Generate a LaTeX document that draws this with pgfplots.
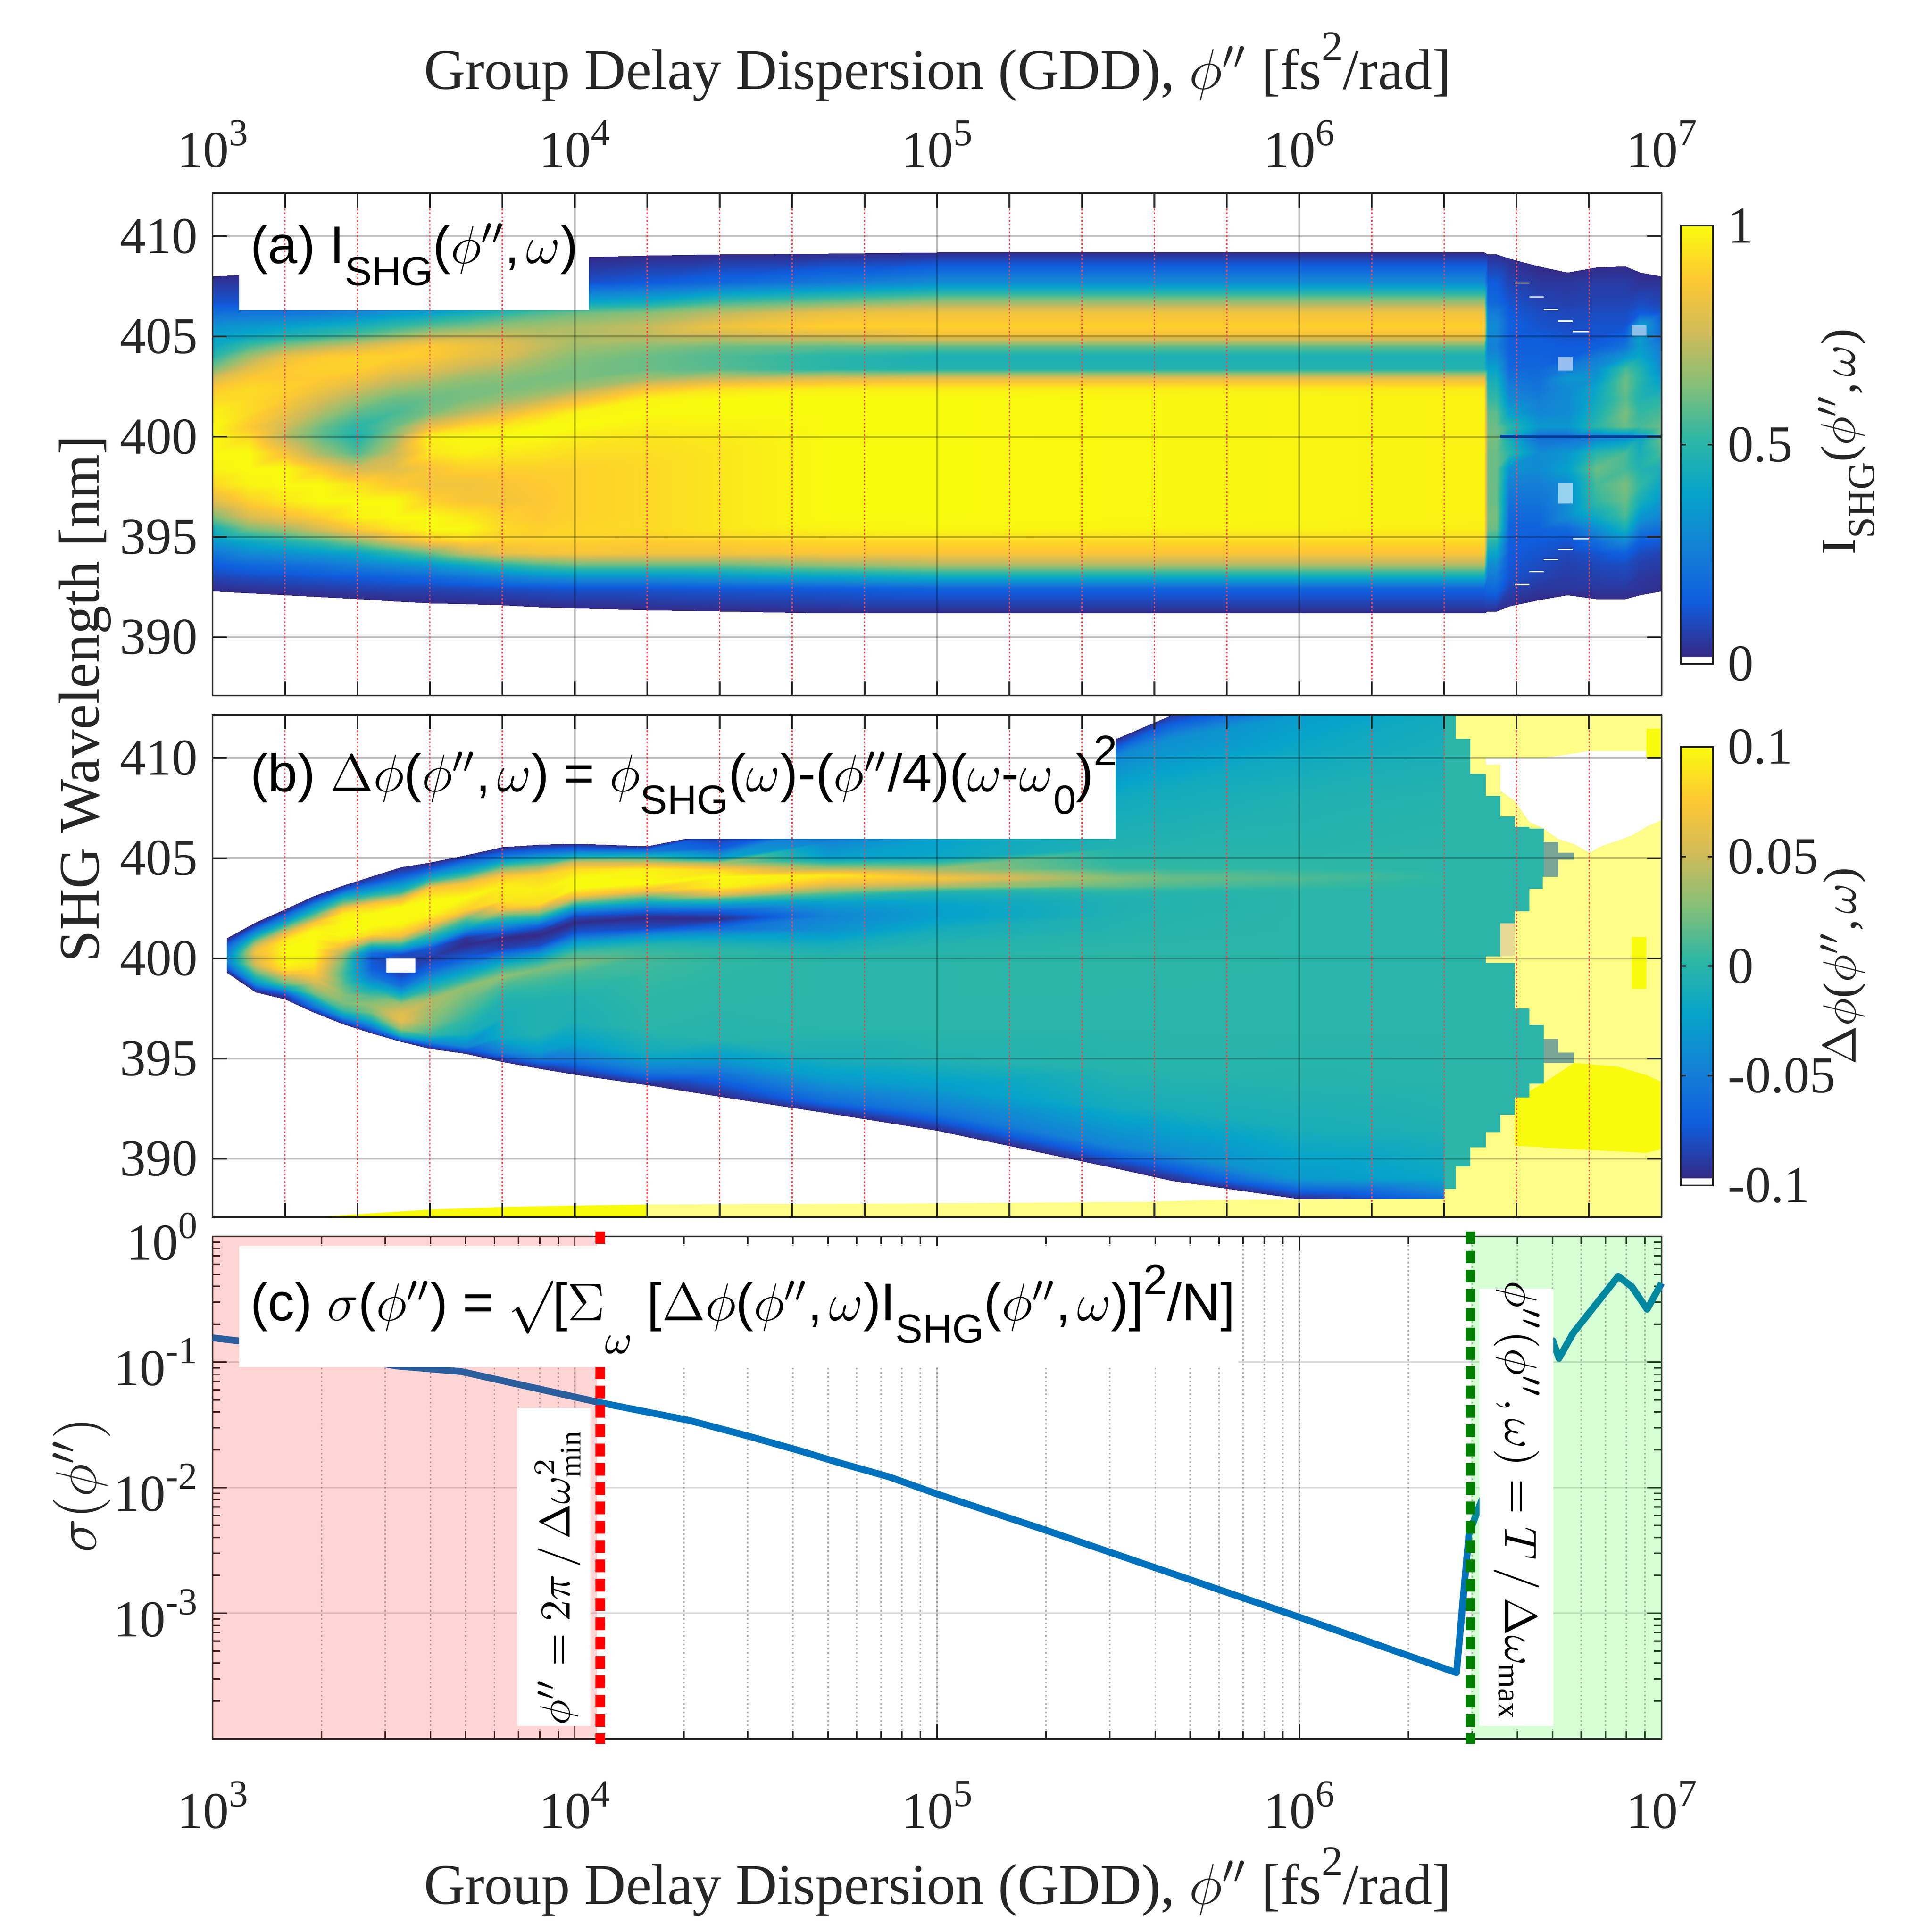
\RequirePackage{fix-cm}
\documentclass[border=0pt]{standalone}
\usepackage{pgfplots}
\pgfplotsset{compat=1.18}
\usepackage{fontspec}
\setmainfont{Liberation Serif}
\newfontfamily\sansf{Liberation Sans}
\definecolor{dgray}{RGB}{38,38,38}
\definecolor{reddot}{RGB}{255,70,80}
\definecolor{teal0}{RGB}{42,181,168}
\definecolor{paley}{RGB}{253,253,135}
\definecolor{bright}{RGB}{249,251,14}
\definecolor{tipgray}{RGB}{120,165,150}
\newcommand\tickfont{\fontsize{12.2}{14}\selectfont}
\newcommand\labfont{\fontsize{13.5}{15}\selectfont}
\newcommand\panfont{\sansf\fontsize{12.5}{15}\selectfont}
\newcommand\tn[1]{10\raisebox{.42em}{\fontsize{9}{9}\selectfont #1}}
\newcommand\sbs[1]{\raisebox{-.42em}{\fontsize{9.6}{10}\selectfont #1}}
\newcommand\sps[1]{\raisebox{.5em}{\fontsize{10}{10}\selectfont #1}}
\newcommand\PW{($\phi''$,\kern.12em$\omega$)}
\pgfplotsset{
  colormap={parw}{rgb255(0cm)=(255,255,255); rgb255(1cm)=(255,255,255); rgb255(1.125cm)=(53,42,135);
    rgb255(9cm)=(15,92,221); rgb255(17cm)=(20,129,214); rgb255(25cm)=(6,164,202); rgb255(33cm)=(46,183,164);
    rgb255(40.875cm)=(135,191,119); rgb255(48.5cm)=(209,187,89); rgb255(56.25cm)=(254,200,50); rgb255(64cm)=(249,251,14)},
  every tick label/.append style={font=\tickfont,text=dgray},
  heatax/.style={
    scale only axis, width=12cm, height=4.16cm, anchor=south west,
    xmin=3, xmax=7, ymin=387.09, ymax=412.15,
    axis on top, axis line style={dgray,line width=.4pt},
    tick align=inside, major tick length=3.4pt, tick style={dgray,line width=.4pt},
    minor tick length=0pt,
    xtick={3,4,5,6,7},
    ytick={390,395,400,405,410},
    xmajorgrids, ymajorgrids,
    major grid style={black,opacity=.25,line width=.45pt},
    extra x ticks={3.2,3.4,3.6,3.8,4.2,4.4,4.6,4.8,5.2,5.4,5.6,5.8,6.2,6.4,6.6,6.8},
    extra x tick labels={},
    extra x tick style={grid=major,major grid style={reddot,line width=.35pt,dash pattern=on .4pt off .5pt,opacity=1}},
  },
  cbar/.style={
    width=.2656cm, anchor=north west, tick align=inside, major tick length=1.2pt,
    tick style={dgray,line width=.35pt}, axis line style={dgray,line width=.4pt},
    yticklabel pos=right,
  },
}
\begin{document}
\begin{tikzpicture}
\path[use as bounding box] (0,0) rectangle (16cm,16cm);
% panel (a), x is log10 of the GDD
\begin{axis}[heatax, at={(1.76cm,10.24cm)}, xticklabel pos=upper,
  xticklabels={\tn{3},\tn{4},\tn{5},\tn{6},\tn{7}},
  xticklabel style={yshift=2.5pt},
  yticklabels={390,395,400,405,410},
  colormap name=parw, point meta min=0, point meta max=1, colorbar,
  colorbar style={cbar, at={(1.01333,0.9354)}, height=3.629cm, ytick={0,.5,1}, yticklabels={0,0.5,1}}]
\addplot[surf, shader=interp, mesh/ordering=y varies, mesh/rows=27, point meta={\thisrowno{2}/100}]
 table {
3.0 408.0 2
3.0 407.7 5
3.0 406.7 12
3.0 406.2 20
3.0 405.5 32
3.0 405 38
3.0 404.5 42
3.0 404 50
3.0 403.4 62
3.0 402.9 78
3.0 402.4 88
3.0 401.9 92
3.0 401.2 98
3.0 400.5 100
3.0 400 100
3.0 399.2 100
3.0 398.4 98
3.0 397.6 92
3.0 396.8 80
3.0 396 62
3.0 395.4 45
3.0 394.8 35
3.0 394.2 22
3.0 393.6 14
3.0 393 8
3.0 392.4 3
3.0 392.3 2
3.1 408.1 2
3.1 407.7 5
3.1 406.7 12
3.1 406.2 22
3.1 405.5 35
3.1 405 42
3.1 404.5 55
3.1 404 68
3.1 403.4 80
3.1 402.9 88
3.1 402.4 92
3.1 401.9 92
3.1 401.2 92
3.1 400.5 88
3.1 400 92
3.1 399.2 100
3.1 398.4 100
3.1 397.6 98
3.1 396.8 90
3.1 396 78
3.1 395.4 62
3.1 394.8 42
3.1 394.2 30
3.1 393.6 18
3.1 393 10
3.1 392.4 4
3.1 392.2 2
3.2 408.2 2
3.2 407.7 5
3.2 406.7 12
3.2 406.2 22
3.2 405.5 38
3.2 405 48
3.2 404.5 65
3.2 404 82
3.2 403.4 88
3.2 402.9 88
3.2 402.4 90
3.2 401.9 88
3.2 401.2 82
3.2 400.5 76
3.2 400 72
3.2 399.2 85
3.2 398.4 100
3.2 397.6 100
3.2 396.8 96
3.2 396 84
3.2 395.4 68
3.2 394.8 48
3.2 394.2 32
3.2 393.6 20
3.2 393 11
3.2 392.4 5
3.2 392.1 2
3.3 408.35 2
3.3 407.7 5
3.3 406.7 14
3.3 406.2 24
3.3 405.5 42
3.3 405 52
3.3 404.5 72
3.3 404 88
3.3 403.4 90
3.3 402.9 88
3.3 402.4 84
3.3 401.9 78
3.3 401.2 70
3.3 400.5 60
3.3 400 58
3.3 399.2 68
3.3 398.4 88
3.3 397.6 100
3.3 396.8 100
3.3 396 90
3.3 395.4 78
3.3 394.8 55
3.3 394.2 36
3.3 393.6 22
3.3 393 13
3.3 392.4 6
3.3 392 2
3.4 408.5 2
3.4 407.7 5
3.4 406.7 15
3.4 406.2 28
3.4 405.5 46
3.4 405 58
3.4 404.5 78
3.4 404 90
3.4 403.4 90
3.4 402.9 84
3.4 402.4 76
3.4 401.9 68
3.4 401.2 58
3.4 400.5 50
3.4 400 48
3.4 399.2 56
3.4 398.4 76
3.4 397.6 94
3.4 396.8 100
3.4 396 98
3.4 395.4 88
3.4 394.8 65
3.4 394.2 40
3.4 393.6 26
3.4 393 14
3.4 392.4 7
3.4 391.9 2
3.5 408.6 2
3.5 407.7 6
3.5 406.7 18
3.5 406.2 34
3.5 405.5 52
3.5 405 66
3.5 404.5 84
3.5 404 90
3.5 403.4 84
3.5 402.9 76
3.5 402.4 68
3.5 401.9 60
3.5 401.2 55
3.5 400.5 60
3.5 400 66
3.5 399.2 74
3.5 398.4 80
3.5 397.6 88
3.5 396.8 100
3.5 396 100
3.5 395.4 95
3.5 394.8 78
3.5 394.2 50
3.5 393.6 30
3.5 393 16
3.5 392.4 8
3.5 391.8 2
3.6 408.7 2
3.6 407.7 7
3.6 406.7 20
3.6 406.2 38
3.6 405.5 58
3.6 405 74
3.6 404.5 88
3.6 404 88
3.6 403.4 80
3.6 402.9 72
3.6 402.4 64
3.6 401.9 60
3.6 401.2 62
3.6 400.5 82
3.6 400 98
3.6 399.2 95
3.6 398.4 86
3.6 397.6 84
3.6 396.8 90
3.6 396 100
3.6 395.4 100
3.6 394.8 88
3.6 394.2 60
3.6 393.6 34
3.6 393 18
3.6 392.4 8
3.6 391.7 2
3.7 408.8 2
3.7 407.7 8
3.7 406.7 24
3.7 406.2 44
3.7 405.5 62
3.7 405 76
3.7 404.5 84
3.7 404 82
3.7 403.4 74
3.7 402.9 66
3.7 402.4 62
3.7 401.9 62
3.7 401.2 72
3.7 400.5 92
3.7 400 100
3.7 399.2 98
3.7 398.4 90
3.7 397.6 84
3.7 396.8 86
3.7 396 96
3.7 395.4 100
3.7 394.8 92
3.7 394.2 74
3.7 393.6 42
3.7 393 22
3.7 392.4 9
3.7 391.65 2
3.8 408.85 2
3.8 407.7 9
3.8 406.7 30
3.8 406.2 50
3.8 405.5 66
3.8 405 75
3.8 404.5 80
3.8 404 78
3.8 403.4 70
3.8 402.9 64
3.8 402.4 62
3.8 401.9 66
3.8 401.2 80
3.8 400.5 96
3.8 400 100
3.8 399.2 96
3.8 398.4 90
3.8 397.6 86
3.8 396.8 85
3.8 396 90
3.8 395.4 92
3.8 394.8 90
3.8 394.2 82
3.8 393.6 50
3.8 393 26
3.8 392.4 10
3.8 391.6 2
3.9 408.9 2
3.9 407.7 10
3.9 406.7 36
3.9 406.2 56
3.9 405.5 68
3.9 405 72
3.9 404.5 74
3.9 404 70
3.9 403.4 65
3.9 402.9 62
3.9 402.4 64
3.9 401.9 72
3.9 401.2 90
3.9 400.5 100
3.9 400 100
3.9 399.2 95
3.9 398.4 90
3.9 397.6 88
3.9 396.8 87
3.9 396 88
3.9 395.4 90
3.9 394.8 90
3.9 394.2 85
3.9 393.6 56
3.9 393 30
3.9 392.4 11
3.9 391.5 2
4 408.95 2
4 407.7 11
4 406.7 40
4 406.2 60
4 405.5 70
4 405 70
4 404.5 68
4 404 64
4 403.4 62
4 402.9 62
4 402.4 68
4 401.9 82
4 401.2 98
4 400.5 100
4 400 97
4 399.2 93
4 398.4 90
4 397.6 90
4 396.8 90
4 396 90
4 395.4 91
4 394.8 90
4 394.2 86
4 393.6 60
4 393 32
4 392.4 12
4 391.45 2
4.2 409.05 2
4.2 407.7 14
4.2 406.7 44
4.2 406.2 64
4.2 405.5 74
4.2 405 72
4.2 404.5 64
4.2 404 60
4.2 403.4 60
4.2 402.9 68
4.2 402.4 86
4.2 401.9 98
4.2 401.2 100
4.2 400.5 97
4.2 400 95
4.2 399.2 93
4.2 398.4 92
4.2 397.6 92
4.2 396.8 92
4.2 396 92
4.2 395.4 92
4.2 394.8 89
4.2 394.2 85
4.2 393.6 60
4.2 393 32
4.2 392.4 12
4.2 391.35 2
4.4 409.1 2
4.4 407.7 18
4.4 406.7 55
4.4 406.2 72
4.4 405.5 84
4.4 405 74
4.4 404.5 60
4.4 404 56
4.4 403.4 57
4.4 402.9 75
4.4 402.4 94
4.4 401.9 100
4.4 401.2 100
4.4 400.5 98
4.4 400 96
4.4 399.2 95
4.4 398.4 95
4.4 397.6 95
4.4 396.8 95
4.4 396 95
4.4 395.4 95
4.4 394.8 90
4.4 394.2 85
4.4 393.6 60
4.4 393 34
4.4 392.4 13
4.4 391.3 2
4.7 409.15 2
4.7 407.7 24
4.7 406.7 62
4.7 406.2 82
4.7 405.5 90
4.7 405 78
4.7 404.5 58
4.7 404 50
4.7 403.4 50
4.7 402.9 80
4.7 402.4 97
4.7 401.9 100
4.7 401.2 100
4.7 400.5 100
4.7 400 100
4.7 399.2 100
4.7 398.4 100
4.7 397.6 100
4.7 396.8 100
4.7 396 100
4.7 395.4 98
4.7 394.8 92
4.7 394.2 87
4.7 393.6 66
4.7 393 38
4.7 392.4 14
4.7 391.2 2
5 409.2 2
5 407.7 30
5 406.7 68
5 406.2 84
5 405.5 90
5 405 84
5 404.5 58
5 404 46
5 403.4 48
5 402.9 82
5 402.4 97
5 401.9 100
5 401.2 100
5 400.5 100
5 400 100
5 399.2 100
5 398.4 100
5 397.6 100
5 396.8 100
5 396 100
5 395.4 99
5 394.8 92
5 394.2 87
5 393.6 70
5 393 42
5 392.4 16
5 391.2 2
6.51 409.2 2
6.51 407.7 30
6.51 406.7 68
6.51 406.2 84
6.51 405.5 90
6.51 405 84
6.51 404.5 58
6.51 404 46
6.51 403.4 48
6.51 402.9 82
6.51 402.4 96
6.51 401.9 98
6.51 401.2 98
6.51 400.5 98
6.51 400 98
6.51 399.2 98
6.51 398.4 98
6.51 397.6 98
6.51 396.8 98
6.51 396 98
6.51 395.4 97
6.51 394.8 92
6.51 394.2 87
6.51 393.6 70
6.51 393 42
6.51 392.4 16
6.51 391.2 2
6.52 409.1 3
6.52 407.7 14
6.52 406.7 18
6.52 406.2 25
6.52 405.5 30
6.52 405 28
6.52 404.5 26
6.52 404 30
6.52 403.4 38
6.52 402.9 44
6.52 402.4 48
6.52 401.9 52
6.52 401.2 58
6.52 400.5 60
6.52 400 62
6.52 399.2 60
6.52 398.4 60
6.52 397.6 60
6.52 396.8 60
6.52 396 62
6.52 395.4 60
6.52 394.8 50
6.52 394.2 40
6.52 393.6 30
6.52 393 24
6.52 392.4 18
6.52 391.3 3
6.545 409.1 3
6.545 407.7 14
6.545 406.7 18
6.545 406.2 25
6.545 405.5 30
6.545 405 28
6.545 404.5 26
6.545 404 30
6.545 403.4 38
6.545 402.9 44
6.545 402.4 48
6.545 401.9 52
6.545 401.2 58
6.545 400.5 60
6.545 400 62
6.545 399.2 60
6.545 398.4 60
6.545 397.6 60
6.545 396.8 60
6.545 396 62
6.545 395.4 60
6.545 394.8 50
6.545 394.2 40
6.545 393.6 30
6.545 393 24
6.545 392.4 18
6.545 391.3 3
6.58 408.9 3
6.58 407.7 8
6.58 406.7 12
6.58 406.2 14
6.58 405.5 16
6.58 405 15
6.58 404.5 15
6.58 404 16
6.58 403.4 18
6.58 402.9 22
6.58 402.4 26
6.58 401.9 30
6.58 401.2 38
6.58 400.5 50
6.58 400 45
6.58 399.2 50
6.58 398.4 32
6.58 397.6 26
6.58 396.8 22
6.58 396 18
6.58 395.4 16
6.58 394.8 15
6.58 394.2 14
6.58 393.6 13
6.58 393 12
6.58 392.4 8
6.58 391.55 3
6.66 408.5 2
6.66 407.7 5
6.66 406.7 8
6.66 406.2 10
6.66 405.5 12
6.66 405 14
6.66 404.5 15
6.66 404 16
6.66 403.4 18
6.66 402.9 20
6.66 402.4 22
6.66 401.9 25
6.66 401.2 28
6.66 400.5 35
6.66 400 20
6.66 399.2 30
6.66 398.4 30
6.66 397.6 25
6.66 396.8 22
6.66 396 18
6.66 395.4 16
6.66 394.8 14
6.66 394.2 12
6.66 393.6 10
6.66 393 8
6.66 392.4 5
6.66 391.85 2
6.74 408.2 2
6.74 407.7 5
6.74 406.7 7
6.74 406.2 9
6.74 405.5 10
6.74 405 12
6.74 404.5 14
6.74 404 14
6.74 403.4 25
6.74 402.9 34
6.74 402.4 30
6.74 401.9 30
6.74 401.2 30
6.74 400.5 34
6.74 400 20
6.74 399.2 34
6.74 398.4 38
6.74 397.6 30
6.74 396.8 30
6.74 396 30
6.74 395.4 18
6.74 394.8 12
6.74 394.2 9
6.74 393.6 7
6.74 393 6
6.74 392.4 5
6.74 392.1 2
6.82 408.45 2
6.82 407.7 6
6.82 406.7 8
6.82 406.2 10
6.82 405.5 12
6.82 405 12
6.82 404.5 15
6.82 404 24
6.82 403.4 30
6.82 402.9 34
6.82 402.4 40
6.82 401.9 42
6.82 401.2 46
6.82 400.5 50
6.82 400 25
6.82 399.2 50
6.82 398.4 60
6.82 397.6 55
6.82 396.8 52
6.82 396 42
6.82 395.4 30
6.82 394.8 20
6.82 394.2 12
6.82 393.6 9
6.82 393 7
6.82 392.4 5
6.82 391.9 2
6.90 408.5 2
6.90 407.7 6
6.90 406.7 8
6.90 406.2 10
6.90 405.5 12
6.90 405 16
6.90 404.5 22
6.90 404 34
6.90 403.4 55
6.90 402.9 60
6.90 402.4 60
6.90 401.9 58
6.90 401.2 62
6.90 400.5 60
6.90 400 30
6.90 399.2 55
6.90 398.4 55
6.90 397.6 62
6.90 396.8 60
6.90 396 55
6.90 395.4 45
6.90 394.8 30
6.90 394.2 16
6.90 393.6 10
6.90 393 8
6.90 392.4 5
6.90 391.9 2
6.94 408.2 2
6.94 407.7 4
6.94 406.7 10
6.94 406.2 14
6.94 405.5 40
6.94 405 38
6.94 404.5 36
6.94 404 40
6.94 403.4 48
6.94 402.9 50
6.94 402.4 48
6.94 401.9 48
6.94 401.2 52
6.94 400.5 55
6.94 400 40
6.94 399.2 45
6.94 398.4 48
6.94 397.6 52
6.94 396.8 45
6.94 396 34
6.94 395.4 24
6.94 394.8 15
6.94 394.2 10
6.94 393.6 7
6.94 393 5
6.94 392.4 4
6.94 392.1 2
7 408 2
7 407.7 4
7 406.7 8
7 406.2 12
7 405.5 18
7 405 18
7 404.5 24
7 404 26
7 403.4 30
7 402.9 36
7 402.4 42
7 401.9 50
7 401.2 55
7 400.5 60
7 400 60
7 399.2 55
7 398.4 45
7 397.6 40
7 396.8 35
7 396 28
7 395.4 20
7 394.8 14
7 394.2 8
7 393.6 6
7 393 4
7 392.4 3
7 392.3 2
};
% light patches, the dark line at 400 nm and the white slits of the noisy part
\addplot[fill={rgb,255:red,150;green,190;blue,240},draw=none] coordinates {(6.715,403.98)(6.755,403.98)(6.755,403.3)(6.715,403.3)};
\addplot[fill={rgb,255:red,150;green,210;blue,240},draw=none] coordinates {(6.715,397.7)(6.755,397.7)(6.755,396.66)(6.715,396.66)};
\addplot[fill={rgb,255:red,140;green,190;blue,235},draw=none] coordinates {(6.918,405.56)(6.958,405.56)(6.958,405.04)(6.918,405.04)};
\addplot[color={rgb,255:red,10;green,80;blue,190},line width=.7pt] coordinates {(6.555,400)(7,400)};
\addplot[white,line width=.3pt,unbounded coords=jump] coordinates {
(6.595,407.66)(6.635,407.66) (6.7,nan)
(6.635,406.97)(6.675,406.97) (6.7,nan)
(6.675,406.33)(6.715,406.33) (6.7,nan)
(6.715,405.77)(6.755,405.77) (6.7,nan)
(6.755,405.25)(6.798,405.25) (6.7,nan)
(6.755,394.9)(6.798,394.9) (6.7,nan)
(6.715,394.39)(6.755,394.39) (6.7,nan)
(6.675,393.86)(6.715,393.86) (6.7,nan)
(6.635,393.27)(6.675,393.27) (6.7,nan)
(6.595,392.62)(6.635,392.62)};
% white box behind the panel text
\addplot[fill=white,draw=none] coordinates {(3.0736,406.3)(4.039,406.3)(4.039,411.5)(3.0736,411.5)};
\end{axis}
% panel (b)
\begin{axis}[heatax, at={(1.76cm,5.92cm)}, xticklabels={},
  yticklabels={390,395,400,405,410},
  colormap name=parw, point meta min=-0.1, point meta max=0.1, colorbar,
  colorbar style={cbar, at={(1.01333,0.9362)}, height=3.632cm, ytick={-.1,-.05,0,.05,.1}, yticklabels={-0.1,-0.05,0,0.05,0.1}}]
% pale hatched area right of the body, and the bottom strip
\addplot[fill=paley,draw=none] table {
6.3 412.15
7 412.15
7 387.09
6.3 387.09
};
\addplot[fill=paley,draw=none] table {
4.2 387.09
4.2 387.72
5 387.78
5.57 387.85
5.75 387.94
6.3 388
6.3 387.09
};
\addplot[fill=bright,draw=none] table {
3.28 387.09
3.6 387.47
3.8 387.6
4 387.67
4.2 387.72
4.2 387.09
};
\addplot[fill=white,draw=none] table {
6.515 410
6.675 410
6.801 410.34
6.958 410.34
6.958 410
7 410
7 406.9
6.958 406.56
6.918 406.13
6.879 405.87
6.836 405.61
6.801 405.27
6.758 405.7
6.715 405.96
6.675 406.47
6.635 406.82
6.595 407.85
6.555 408.37
6.555 409.66
6.515 409.66
};
\addplot[fill=bright,draw=none] table {
6.595 390.65
6.595 392.98
6.672 393.75
6.758 394.78
6.879 394.6
6.958 394.18
7 393.83
7 390.48
6.958 390.3
6.758 390.48
};
\addplot[fill=bright,draw=none] table {
6.918 401.06
6.958 401.06
6.958 398.48
6.918 398.48
};
\addplot[fill=bright,draw=none] table {
6.958 411.46
7 411.46
7 410
6.958 410
};
\addplot[fill={rgb,255:red,232;green,218;blue,150},draw=none] table {
6.555 401.75
6.595 401.75
6.595 400.1
6.555 400.1
};
% teal body right of the mesh
\addplot[fill=teal0,draw=none] table {
6.39 412.15
6.432 412.15
6.432 410.95
6.472 410.95
6.472 409.2
6.515 409.2
6.515 408.1
6.555 408.1
6.555 407.08
6.595 407.08
6.595 406.56
6.635 406.56
6.635 406.47
6.675 406.47
6.675 405.8
6.715 405.8
6.715 405.27
6.758 405.27
6.758 404.93
6.715 404.93
6.715 404.07
6.672 404.07
6.672 403.47
6.635 403.47
6.635 402.35
6.595 402.35
6.595 401.75
6.555 401.75
6.555 400.1
6.515 400.1
6.515 399.77
6.595 399.77
6.595 397.5
6.635 397.5
6.635 396.67
6.675 396.67
6.675 395.98
6.715 395.98
6.715 395.3
6.758 395.3
6.758 394.78
6.675 394.78
6.675 393.75
6.635 393.75
6.635 393.06
6.595 393.06
6.595 392.2
6.555 392.2
6.555 391.33
6.515 391.33
6.515 390.57
6.472 390.57
6.472 389.62
6.432 389.62
6.432 388.5
6.398 388.5
6.398 388.05
6.39 388.05
};
\addplot[fill=tipgray,draw=none] table {
6.675 405.8
6.715 405.8
6.715 405.27
6.758 405.27
6.758 404.93
6.715 404.93
6.715 404.07
6.675 404.07
};
\addplot[fill=tipgray,draw=none] table {
6.675 395.98
6.715 395.98
6.715 395.3
6.758 395.3
6.758 394.78
6.675 394.78
};
\addplot[surf, shader=interp, mesh/ordering=y varies, mesh/rows=22, point meta={\thisrowno{2}/1000}]
 table {
3.04 401 -96
3.04 400.9 -90
3.04 400.8 -80
3.04 400.7 -70
3.04 400.6 -62
3.04 400.5 -58
3.04 400.4 -55
3.04 400.3 -52
3.04 400.2 -50
3.04 400.1 -48
3.04 400 -45
3.04 399.95 -46
3.04 399.9 -48
3.04 399.85 -50
3.04 399.8 -52
3.04 399.7 -58
3.04 399.65 -62
3.04 399.6 -66
3.04 399.5 -74
3.04 399.45 -80
3.04 399.4 -88
3.04 399.3 -96
3.12 401.8 -96
3.12 401.65 -85
3.12 401.5 -65
3.12 401.35 -45
3.12 401.2 -25
3.12 401.05 0
3.12 400.9 20
3.12 400.75 38
3.12 400.6 55
3.12 400.45 65
3.12 400.3 70
3.12 400.15 65
3.12 400 60
3.12 399.85 58
3.12 399.7 55
3.12 399.55 42
3.12 399.4 30
3.12 399.1 0
3.12 398.8 -30
3.12 398.6 -60
3.12 398.4 -90
3.12 398.3 -96
3.2 402.46 -96
3.2 402.3 -85
3.2 402.2 -70
3.2 402 -45
3.2 401.86 -30
3.2 401.7 -5
3.2 401.5 25
3.2 401.35 48
3.2 401.17 70
3.2 401 85
3.2 400.83 95
3.2 400.48 100
3.2 400.14 100
3.2 399.8 100
3.2 399.45 90
3.2 399.25 70
3.2 399.1 50
3.2 398.76 20
3.2 398.5 -20
3.2 398.25 -70
3.2 398.1 -90
3.2 397.97 -96
3.28 403.1 -96
3.28 402.9 -75
3.28 402.72 -50
3.28 402.55 -28
3.28 402.37 -10
3.28 402.2 10
3.28 402.03 30
3.28 401.77 72
3.28 401.5 92
3.28 401.34 100
3.28 401 100
3.28 400.48 100
3.28 400.1 100
3.28 399.8 92
3.28 399.5 85
3.28 399.28 78
3.28 399 65
3.28 398.76 50
3.28 398.25 20
3.28 397.9 -25
3.28 397.56 -60
3.28 397.3 -96
3.36 403.63 -96
3.36 403.4 -70
3.36 403.2 -35
3.36 403 -5
3.36 402.75 25
3.36 402.5 70
3.36 402.2 95
3.36 401.7 100
3.36 401.2 100
3.36 400.9 90
3.36 400.6 70
3.36 400.3 40
3.36 400 28
3.36 399.6 18
3.36 399.2 12
3.36 398.7 18
3.36 398.2 28
3.36 397.8 25
3.36 397.4 5
3.36 397.1 -35
3.36 396.9 -70
3.36 396.73 -96
3.44 404.09 -96
3.44 403.8 -75
3.44 403.5 -40
3.44 403.2 -5
3.44 403 25
3.44 402.7 75
3.44 402.2 100
3.44 401.6 100
3.44 401.2 85
3.44 400.9 40
3.44 400.55 -20
3.44 400.25 -60
3.44 400 -75
3.44 399.5 -70
3.44 399.1 -55
3.44 398.6 -20
3.44 398.1 15
3.44 397.7 32
3.44 397.3 25
3.44 396.9 -10
3.44 396.55 -55
3.44 396.27 -96
3.52 404.56 -96
3.52 404.1 -70
3.52 403.66 -30
3.52 403.3 5
3.52 403 60
3.52 402.55 100
3.52 401.7 98
3.52 401.15 70
3.52 400.8 20
3.52 400.5 -25
3.52 400.2 -80
3.52 399.7 -90
3.52 399.1 -80
3.52 398.6 -55
3.52 398.1 -5
3.52 397.7 40
3.52 397.2 60
3.52 396.9 62
3.52 396.5 35
3.52 396.15 -10
3.52 396 -55
3.52 395.84 -96
3.6 404.78 -96
3.6 404.45 -70
3.6 404.1 -25
3.6 403.85 10
3.6 403.5 75
3.6 402.9 100
3.6 402.2 98
3.6 401.7 70
3.6 401.25 15
3.6 400.8 -30
3.6 400.5 -75
3.6 400 -85
3.6 399.45 -65
3.6 398.95 -30
3.6 398.4 5
3.6 397.9 40
3.6 397.4 35
3.6 396.7 25
3.6 396.2 5
3.6 395.85 -40
3.6 395.65 -75
3.6 395.5 -96
3.7 405.15 -96
3.7 404.8 -60
3.7 404.4 -22
3.7 404.1 15
3.7 403.75 70
3.7 403.06 100
3.7 402.4 78
3.7 401.95 15
3.7 401.5 -25
3.7 401.2 -70
3.7 401 -92
3.7 400.7 -96
3.7 400.1 -75
3.7 399.6 -40
3.7 399 0
3.7 398.6 30
3.7 397.9 20
3.7 397 5
3.7 396.2 -10
3.7 395.6 -45
3.7 395.4 -75
3.7 395.24 -96
3.8 405.55 -96
3.8 405.2 -65
3.8 404.87 -25
3.8 404.5 25
3.8 404.1 75
3.8 403.6 95
3.8 402.9 90
3.8 402.5 70
3.8 402.1 15
3.8 401.7 -30
3.8 401.3 -75
3.8 401 -96
3.8 400.5 -85
3.8 399.95 -30
3.8 399.5 5
3.8 399.1 30
3.8 398.6 10
3.8 397.9 -5
3.8 397 -10
3.8 396.1 -15
3.8 395.3 -50
3.8 394.84 -96
3.9 405.67 -96
3.9 405.3 -60
3.9 404.95 -15
3.9 404.6 30
3.9 404.17 80
3.9 403.4 95
3.9 402.7 85
3.9 402.28 30
3.9 401.9 -25
3.9 401.6 -70
3.9 401.35 -90
3.9 401.17 -96
3.9 400.65 -80
3.9 400.2 -30
3.9 399.8 5
3.9 399.45 25
3.9 398.9 10
3.9 397.9 -5
3.9 396.2 -5
3.9 395.3 -30
3.9 394.9 -60
3.9 394.51 -96
4 405.73 -96
4 405.4 -60
4 405.1 -10
4 404.8 50
4 404.45 85
4 404 100
4 403.5 100
4 403.1 70
4 402.8 20
4 402.5 -30
4 402.1 -80
4 401.8 -96
4 401.3 -75
4 400.8 -25
4 400.3 10
4 399.8 25
4 399.2 8
4 398 -5
4 396.8 -8
4 395.7 -25
4 394.8 -60
4 394.2 -96
4.2 405.6 -96
4.2 405.35 -50
4.2 405.1 -5
4.2 404.75 55
4.2 404.45 95
4.2 403.75 100
4.2 403.4 70
4.2 403.05 15
4.2 402.8 -15
4.2 402.45 -60
4.2 402.2 -85
4.2 402.03 -96
4.2 401.5 -80
4.2 401.08 -30
4.2 400.65 0
4.2 400.1 10
4.2 399.3 6
4.2 398 2
4.2 396.5 0
4.2 395.2 -15
4.2 394.3 -55
4.2 393.69 -96
4.4 406.3 -96
4.4 405.5 -70
4.4 405 -20
4.4 404.75 40
4.4 404.4 85
4.4 404.1 100
4.4 403.55 95
4.4 403.2 60
4.4 402.95 10
4.4 402.6 -40
4.4 402.35 -70
4.4 402 -95
4.4 401.5 -60
4.4 401.05 -20
4.4 400.5 0
4.4 400 4
4.4 399 2
4.4 397.5 0
4.4 396 -2
4.4 395 -28
4.4 394.2 -58
4.4 393.1 -96
4.7 407.6 -96
4.7 406.8 -75
4.7 405.8 -45
4.7 405 -25
4.7 404.6 25
4.7 404.15 92
4.7 403.7 65
4.7 403.3 20
4.7 403 -10
4.7 402.7 -28
4.7 402.4 -38
4.7 402.1 -45
4.7 401.4 -35
4.7 400.7 -12
4.7 400 0
4.7 399.5 0
4.7 398 0
4.7 396.5 0
4.7 395 -10
4.7 394 -28
4.7 392.9 -60
4.7 392.27 -96
5 409 -96
5 407.5 -55
5 406 -25
5 405 -18
5 404.45 35
5 404 72
5 403.6 40
5 403.3 -5
5 403 -15
5 402.7 -22
5 402.4 -25
5 402.1 -25
5 401.4 -12
5 400.7 -3
5 400 0
5 399.5 0
5 398 0
5 396.5 0
5 395 -5
5 393.5 -28
5 392.3 -55
5 391.4 -96
5.5 411 -96
5.5 410.1 -42
5.5 408 -15
5.5 405.5 -4
5.5 404.5 5
5.5 404 28
5.5 403.6 18
5.5 403.3 0
5.5 403 -5
5.5 402.7 -6
5.5 402.4 -6
5.5 402.1 -5
5.5 401.4 -3
5.5 400.7 0
5.5 400 2
5.5 399.5 2
5.5 398 0
5.5 396.5 0
5.5 394.5 -2
5.5 392.5 -14
5.5 390.6 -45
5.5 389.5 -96
5.65 412.15 -90
5.65 411 -38
5.65 408.5 -14
5.65 405.5 -3
5.65 404.5 4
5.65 404 20
5.65 403.6 12
5.65 403.3 -1
5.65 403 -3
5.65 402.7 -3
5.65 402.4 -3
5.65 402.1 -2
5.65 401.4 -1
5.65 400.7 0
5.65 400 1
5.65 399.5 1
5.65 398 0
5.65 396.5 0
5.65 394.5 -1
5.65 392.5 -10
5.65 390.3 -38
5.65 388.9 -96
6 412.15 -28
6 410.5 -18
6 408 -6
6 405.5 -2
6 404.5 3
6 404 12
6 403.6 6
6 403.3 0
6 403 0
6 402.7 0
6 402.4 0
6 402.1 0
6 401.4 0
6 400.7 0
6 400 0
6 399.5 0
6 398 0
6 396.5 0
6 394 -2
6 391.5 -10
6 389 -30
6 388 -96
6.4 412.15 -14
6.4 410.5 -10
6.4 408 -3
6.4 405.5 0
6.4 404.5 0
6.4 404 3
6.4 403.6 1
6.4 403.3 0
6.4 403 0
6.4 402.7 0
6.4 402.4 0
6.4 402.1 0
6.4 401.4 0
6.4 400.7 0
6.4 400 0
6.4 399.5 0
6.4 398 0
6.4 396.5 0
6.4 394 -1
6.4 391.5 -6
6.4 389 -20
6.4 388 -60
};
% hole in the map, and the white box behind the panel text
\addplot[fill=white,draw=none] table {
3.48 400
3.56 400
3.56 399.3
3.48 399.3
};
\addplot[fill=white,draw=none] coordinates {(3.0736,405.96)(5.493,405.96)(5.493,412.15)(3.0736,412.15)};
\end{axis}
% panel (c)
\begin{loglogaxis}[scale only axis, width=12cm, height=4.16cm, anchor=south west, at={(1.76cm,1.6cm)},
  xmin=1e3, xmax=1e7, ymin=1e-4, ymax=1, clip=false,
  axis line style={dgray,line width=.4pt},
  tick align=inside, major tick length=3.4pt, minor tick length=1.8pt, tick style={dgray,line width=.35pt},
  xtick={1e3,1e4,1e5,1e6,1e7}, xticklabels={\tn{3},\tn{4},\tn{5},\tn{6},\tn{7}},
  xticklabel style={yshift=-6.5pt},
  ytick={1e-4,1e-3,1e-2,1e-1,1}, yticklabels={,\tn{-3},\tn{-2},\tn{-1},\tn{0}},
  xmajorgrids, ymajorgrids, xminorgrids,
  major grid style={black,opacity=.14,line width=.45pt},
  minor grid style={black,opacity=.3,line width=.35pt,dash pattern=on .4pt off .6pt}]
\addplot[color={rgb,255:red,0;green,114;blue,189},line width=1.6pt,line join=round] coordinates {
(1000,.156)(1778,.128)(3221,.093)(4864,.084)(11750,.0475)(15000,.0413)(20700,.0343)(30000,.0258)(41200,.0199)(54000,.0157)(73600,.0122)
(100000,.0089)(202000,.00453)(1e6,.00093)(2.716e6,.000336)(2.94e6,.0043)(3.15e6,.0073)
(5.01e6,.148)(5.21e6,.107)(5.69e6,.169)(7.59e6,.482)(8.28e6,.398)(9.12e6,.263)(1e7,.425)};
\addplot[fill=red,fill opacity=.17,draw=none] coordinates {(1000,1e-4)(11520,1e-4)(11520,1)(1000,1)};
\addplot[fill={rgb,255:red,0;green,255;blue,0},fill opacity=.16,draw=none] coordinates {(2.97e6,1e-4)(1e7,1e-4)(1e7,1)(2.97e6,1)};
\addplot[color=red,line width=2.3pt,dash pattern=on 3pt off 1.55pt] coordinates {(11750,1.1)(11750,.91e-4)};
\addplot[color={rgb,255:red,0;green,128;blue,0},line width=2.3pt,dash pattern=on 3pt off 1.55pt] coordinates {(2.97e6,1.1)(2.97e6,.91e-4)};
\addplot[fill=white,draw=none] coordinates {(1185,.838)(6.79e5,.838)(6.79e5,.0912)(1185,.0912)};
\addplot[fill=white,draw=none] coordinates {(6943,.043)(11040,.043)(11040,1.26e-4)(6943,1.26e-4)};
\addplot[fill=white,draw=none] coordinates {(3.145e6,.384)(5.02e6,.384)(5.02e6,1.26e-4)(3.145e6,1.26e-4)};
\end{loglogaxis}
% texts, placed in pixels of the 5000 x 5000 frame
\begin{scope}[x=0.0032cm,y=0.0032cm]
\node[font=\labfont,text=dgray] at (2423,4820) {Group Delay Dispersion (GDD), $\phi''$ [fs\sps{2}/rad]};
\node[font=\labfont,text=dgray] at (2423,130) {Group Delay Dispersion (GDD), $\phi''$ [fs\sps{2}/rad]};
\node[font=\labfont,text=dgray,rotate=90] at (220,3187) {SHG Wavelength [nm]};
\node[font=\labfont,text=dgray,rotate=90] at (211,1155) {$\sigma(\phi'')$};
\node[font=\fontsize{11.5}{13}\selectfont,text=dgray,rotate=90] at (4772,3852) {I\raisebox{-.4em}{\fontsize{9}{9}\selectfont SHG}($\phi''$,\kern.12em$\omega$)};
\node[font=\fontsize{11}{13}\selectfont,text=dgray,rotate=90] at (4763,2496) {$\Delta\phi$($\phi''$,\kern.12em$\omega$)};
\node[font=\panfont,anchor=base west,inner sep=0pt] at (645,4313) {(a) I\sbs{SHG}\PW};
\node[font=\panfont,anchor=base west,inner sep=0pt] at (645,2947) {(b) $\Delta\phi$\PW{} = $\phi$\sbs{SHG}($\omega$)-($\phi''$/4)($\omega$-$\omega$\sbs{0})\sps{2}};
\node[font=\panfont,anchor=base west,inner sep=0pt] at (645,1580) {(c) $\sigma$($\phi''$) = $\surd$[$\Sigma$\raisebox{-.62em}{\fontsize{9.6}{10}\selectfont $\omega$} [$\Delta\phi$\PW{}I\sbs{SHG}\PW]\sps{2}/N]};
\node[font=\fontsize{10}{12}\selectfont,rotate=90] at (1442,917) {$\phi''=2\pi\,/\,\Delta\omega^2_{\min}$};
\node[font=\fontsize{10.7}{12}\selectfont,rotate=-90] at (3920,1115) {$\phi''(\phi'',\omega)=T\,/\,\Delta\omega_{\max}$};
\end{scope}
\end{tikzpicture}
\end{document}
